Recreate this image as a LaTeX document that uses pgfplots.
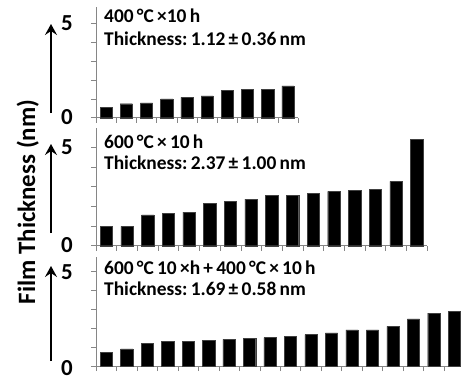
\documentclass[border=0pt]{standalone}
\usepackage{pgfplots}
\pgfplotsset{compat=1.18}
\usepackage{fontspec}
\setmainfont{Carlito}
\usetikzlibrary{arrows.meta}
\definecolor{axgray}{RGB}{134,134,134}
\pgfplotsset{
  panel/.style={
    scale only axis,
    axis lines=left,
    axis line style={-, axgray, line width=0.8bp},
    ymin=0, xmin=0,
    ytick={0,1,2,3,4,5},
    yticklabels={},
    xtick={0,1,...,20},
    xticklabels={},
    tick style={axgray, line width=0.6bp},
    tick align=outside,
    major tick length=5bp,
    ybar, bar width=0.6,
    clip=false,
  },
  barsty/.style={fill=black, draw=black!75, line width=0.4bp},
}
\begin{document}
\begin{tikzpicture}
\useasboundingbox (0,0) rectangle (461bp,-377bp);
% Panel 1
\begin{axis}[panel, at={(96bp,-117.7bp)}, anchor=south west,
  width=202bp, height=110.7bp, xmax=10, ymax=5.86]
\addplot[barsty] coordinates {(0.5,0.55) (1.5,0.74) (2.5,0.79) (3.5,0.99) (4.5,1.08)
  (5.5,1.15) (6.5,1.45) (7.5,1.50) (8.5,1.50) (9.5,1.68)};
\end{axis}
% Panel 2
\begin{axis}[panel, at={(96bp,-245.7bp)}, anchor=south west,
  width=331bp, height=117.4bp, xmax=16, ymax=5.96]
\addplot[barsty] coordinates {(0.5,0.98) (1.5,0.98) (2.5,1.56) (3.5,1.64) (4.5,1.71)
  (5.5,2.14) (6.5,2.24) (7.5,2.37) (8.5,2.56) (9.5,2.56) (10.5,2.66) (11.5,2.76)
  (12.5,2.80) (13.5,2.85) (14.5,3.27) (15.5,5.39)};
\end{axis}
% Panel 3
\begin{axis}[panel, at={(96bp,-366bp)}, anchor=south west,
  width=368.6bp, height=109.3bp, xmax=18, ymax=5.78]
\addplot[barsty] coordinates {(0.5,0.71) (1.5,0.90) (2.5,1.20) (3.5,1.31) (4.5,1.31)
  (5.5,1.36) (6.5,1.41) (7.5,1.45) (8.5,1.50) (9.5,1.57) (10.5,1.66) (11.5,1.75)
  (12.5,1.91) (13.5,1.91) (14.5,2.10) (15.5,2.49) (16.5,2.79) (17.5,2.90)};
\end{axis}
% tick labels 0 and 5
\begin{scope}[every node/.style={inner sep=0pt, anchor=center, font=\fontsize{23}{23}\selectfont\bfseries}]
\node at (67bp,-23.5bp) {5};
\node at (67bp,-117.5bp) {0};
\node at (67bp,-147.5bp) {5};
\node at (67bp,-245.5bp) {0};
\node at (67bp,-272bp) {5};
\node at (67bp,-368bp) {0};
\end{scope}
% annotations
\begin{scope}[every node/.style={inner sep=0pt, anchor=base west, font=\fontsize{19.5}{22}\selectfont\bfseries}]
\node at (104bp,-22.6bp) {400\,°C\,×10\,h};
\node at (104bp,-45bp) {Thickness:\,1.12\,±\,0.36\,nm};
\node at (104bp,-148bp) {600\,°C\,×\,10\,h};
\node at (104bp,-169.5bp) {Thickness:\,2.37\,±\,1.00\,nm};
\node at (104bp,-274bp) {600\,°C\,10\,×h\,+\,400\,°C\,×\,10\,h};
\node at (104bp,-295bp) {Thickness:\,1.69\,±\,0.58\,nm};
\end{scope}
\node[rotate=90, anchor=base, inner sep=0pt, font=\fontsize{25}{25}\selectfont\bfseries] at (35bp,-202bp) {Film Thickness (nm)};
\begin{scope}[line width=2.3bp, -{Stealth[length=11bp, width=12bp, inset=4bp]}]
\draw (51bp,-113bp) -- (51bp,-24bp);
\draw (51bp,-233bp) -- (51bp,-144bp);
\draw (51bp,-361bp) -- (51bp,-266bp);
\end{scope}
\end{tikzpicture}
\end{document}
